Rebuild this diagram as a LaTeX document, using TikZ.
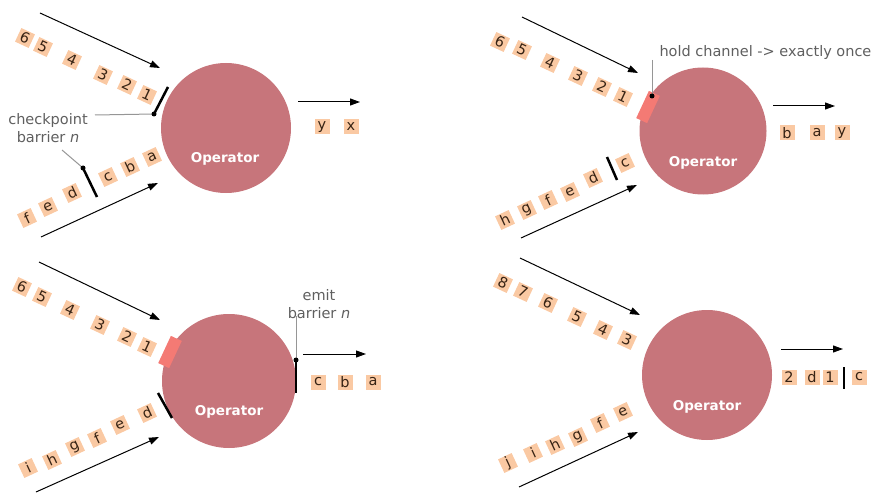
\documentclass[tikz,border=0pt]{standalone}
\usepackage{fontspec}
\setmainfont{DejaVu Sans}
\usepackage{tikz}
\usetikzlibrary{arrows.meta}
\definecolor{opfill}{RGB}{199,117,123}
\definecolor{tokfill}{RGB}{250,201,163}
\definecolor{toktext}{RGB}{55,35,20}
\definecolor{holdfill}{RGB}{244,122,116}
\definecolor{notegray}{RGB}{95,95,95}
\definecolor{leadgray}{RGB}{150,150,150}
\tikzset{
  op/.style={circle,fill=opfill,minimum size=130pt,inner sep=0pt},
  optext/.style={text=white,font=\fontsize{13.5}{14}\selectfont\bfseries},
  tok/.style={fill=tokfill,minimum size=15pt,inner sep=0pt,text=toktext,font=\fontsize{14.5}{15}\selectfont},
  hold/.style={fill=holdfill,minimum width=12pt,minimum height=30pt,inner sep=0pt},
  flow/.style={->,line width=1pt},
  bar/.style={line width=2.5pt},
  lead/.style={leadgray,line width=1pt},
  note/.style={text=notegray,align=center,font=\fontsize{14.5}{18}\selectfont},
}

\begin{document}
\begin{tikzpicture}[>={Triangle[length=10pt,width=7pt]},x=1pt,y=-1pt]
  \useasboundingbox (0,0) rectangle (881,500);
  \begin{scope}
    % checkpoint barrier reaches the upper input
    \node[op] (op1) at (226,128) {};
    \node[optext] (op1t) at (225,159) {Operator};
    \coordinate (in1a) at (40,13);   \coordinate (in1b) at (160,68);
    \coordinate (in1c) at (41,237);  \coordinate (in1d) at (158,183);
    \coordinate (out1a) at (298,102); \coordinate (out1b) at (360,102);
    \draw[flow] (in1a) -- (in1b);
    \draw[flow] (in1c) -- (in1d);
    \draw[flow] (out1a) -- (out1b);
    \foreach \t/\px/\py in {6/25/38,5/43/47,4/72/60,3/103/75,2/127/85,1/147/95}
      \node[tok,rotate=-25] (u1-\t) at (\px,\py) {\t};
    \foreach \t/\px/\py in {f/27/218,e/48/207,d/72/193,c/108/177,b/130/167,a/152/157}
      \node[tok,rotate=25] (l1-\t) at (\px,\py) {\t};
    \foreach \t/\px in {y/322,x/351}
      \node[tok] (o1-\t) at (\px,127) {\t};
    \coordinate (bar1a) at (168,87);  \coordinate (bar1b) at (154,114);
    \coordinate (bar1c) at (83,168);  \coordinate (bar1d) at (97,197);
    \draw[bar] (bar1a) -- (bar1b);
    \draw[bar] (bar1c) -- (bar1d);
    \node[note] (cp1) at (48,128) {checkpoint\\barrier \textit{n}};
    \coordinate (lead1a) at (95,115); \coordinate (lead1b) at (62,150);
    \draw[lead] (lead1a) -- (bar1b);
    \draw[lead] (lead1b) -- (bar1c);
    \fill (bar1b) circle (2.5pt);
    \fill (bar1c) circle (2.5pt);
  \end{scope}
  \begin{scope}[shift={(490,0)}]
    % upper input held until the lower barrier arrives
    \node[op,minimum size=127pt] (op2) at (213,131) {};
    \node[optext] (op2t) at (213,163) {Operator};
    \coordinate (in2a) at (32,17);   \coordinate (in2b) at (148,73);
    \coordinate (in2c) at (31,238);  \coordinate (in2d) at (147,185);
    \coordinate (out2a) at (283,106); \coordinate (out2b) at (345,106);
    \draw[flow] (in2a) -- (in2b);
    \draw[flow] (in2c) -- (in2d);
    \draw[flow] (out2a) -- (out2b);
    \foreach \t/\px/\py in {6/10/42,5/32/50,4/60/63,3/88/76,2/112/87,1/133/97}
      \node[tok,rotate=-25] (u2-\t) at (\px,\py) {\t};
    \foreach \t/\px/\py in {h/15/220,g/37/210,f/58/200,e/80/192,d/103/178,c/135/163}
      \node[tok,rotate=25] (l2-\t) at (\px,\py) {\t};
    \foreach \t/\px in {b/297,a/327,y/352}
      \node[tok] (o2-\t) at (\px,133) {\t};
    \node[hold,rotate=-25] (hold2) at (158,107) {};
    \coordinate (bar2a) at (117,157); \coordinate (bar2b) at (127,180);
    \draw[bar] (bar2a) -- (bar2b);
    \coordinate (dot2) at (162,96);
    \node[note,anchor=base west] (hc2) at (166,57) {hold channel -> exactly once};
    \coordinate (lead2) at (162,60);
    \draw[lead] (lead2) -- (dot2);
    \fill (dot2) circle (2.5pt);
  \end{scope}
  \begin{scope}[shift={(0,250)}]
    % both barriers in, barrier n goes out
    \node[op,minimum size=134pt] (op3) at (229,131) {};
    \node[optext] (op3t) at (229,162) {Operator};
    \coordinate (in3a) at (39,12);   \coordinate (in3b) at (160,70);
    \coordinate (in3c) at (36,242);  \coordinate (in3d) at (159,187);
    \coordinate (out3a) at (303,104); \coordinate (out3b) at (366,104);
    \draw[flow] (in3a) -- (in3b);
    \draw[flow] (in3c) -- (in3d);
    \draw[flow] (out3a) -- (out3b);
    \foreach \t/\px/\py in {6/22/37,5/42/47,4/70/60,3/100/75,2/127/87,1/147/97}
      \node[tok,rotate=-25] (u3-\t) at (\px,\py) {\t};
    \foreach \t/\px/\py in {i/28/218,h/52/210,g/75/197,f/97/188,e/120/175,d/147/163}
      \node[tok,rotate=25] (l3-\t) at (\px,\py) {\t};
    \foreach \t/\px in {c/318,b/345,a/373}
      \node[tok] (o3-\t) at (\px,132) {\t};
    \node[hold,rotate=-25] (hold3) at (170,102) {};
    \coordinate (bar3a) at (158,143); \coordinate (bar3b) at (172,168);
    \coordinate (bar3c) at (296,110); \coordinate (bar3d) at (296,143);
    \draw[bar] (bar3a) -- (bar3b);
    \draw[bar] (bar3c) -- (bar3d);
    \node[note] (eb3) at (319,54) {emit\\barrier \textit{n}};
    \coordinate (lead3) at (296,66);
    \draw[lead] (lead3) -- (bar3c);
    \fill (bar3c) circle (2.5pt);
  \end{scope}
  \begin{scope}[shift={(490,250)}]
    % channels released again
    \node[op] (op4) at (217,125) {};
    \node[optext] (op4t) at (217,157) {Operator};
    \coordinate (in4a) at (30,8);    \coordinate (in4b) at (150,65);
    \coordinate (in4c) at (29,237);  \coordinate (in4d) at (148,182);
    \coordinate (out4a) at (291,99); \coordinate (out4b) at (353,99);
    \draw[flow] (in4a) -- (in4b);
    \draw[flow] (in4c) -- (in4d);
    \draw[flow] (out4a) -- (out4b);
    \foreach \t/\px/\py in {8/13/33,7/33/42,6/58/53,5/87/67,4/113/80,3/137/90}
      \node[tok,rotate=-25] (u4-\t) at (\px,\py) {\t};
    \foreach \t/\px/\py in {j/18/213,i/43/203,h/65/195,g/88/187,f/110/173,e/133/162}
      \node[tok,rotate=25] (l4-\t) at (\px,\py) {\t};
    \foreach \t/\px in {2/299,d/322,1/340,c/369}
      \node[tok] (o4-\t) at (\px,127) {\t};
    \coordinate (bar4a) at (354,117); \coordinate (bar4b) at (354,139);
    \draw[bar] (bar4a) -- (bar4b);
  \end{scope}
\end{tikzpicture}
\end{document}
